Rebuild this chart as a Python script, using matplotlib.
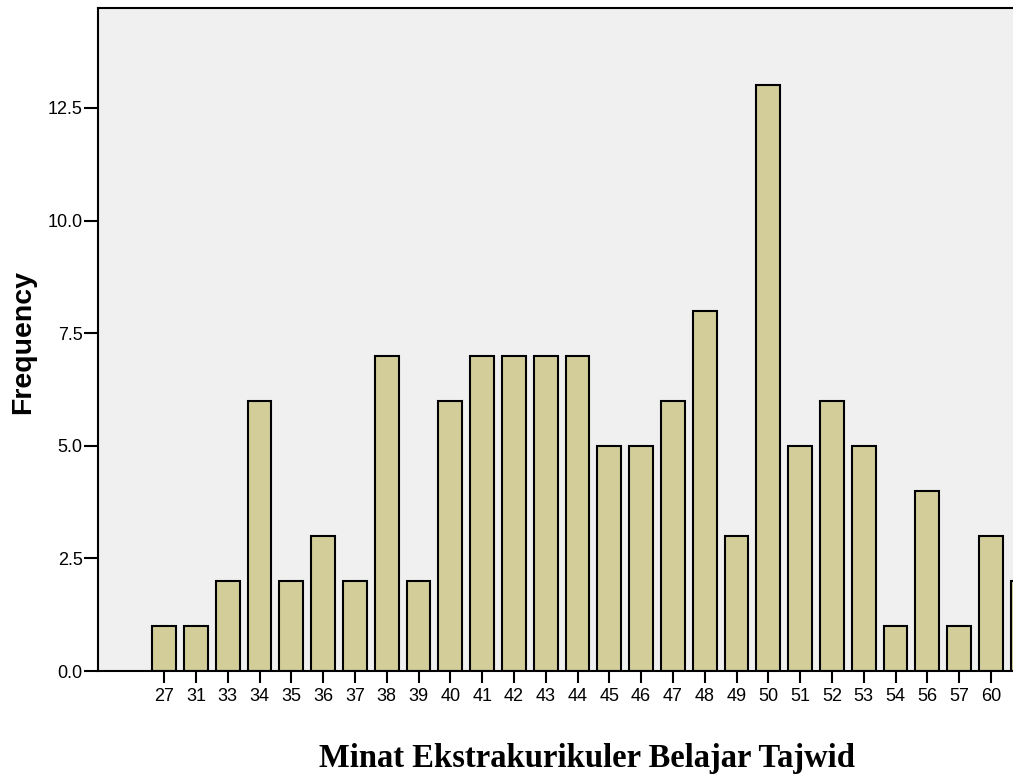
import matplotlib
matplotlib.use("Agg")
import matplotlib.pyplot as plt

# Nilai minat (kategori) dan frekuensinya
nilai = ["27", "31", "33", "34", "35", "36", "37", "38", "39", "40", "41", "42",
         "43", "44", "45", "46", "47", "48", "49", "50", "51", "52", "53", "54",
         "56", "57", "60", "61"]
frekuensi = [1, 1, 2, 6, 2, 3, 2, 7, 2, 6, 7, 7,
             7, 7, 5, 5, 6, 8, 3, 13, 5, 6, 5, 1,
             4, 1, 3, 2]
y_ticks = [0.0, 2.5, 5.0, 7.5, 10.0, 12.5]

W, H = 1013, 774
fig = plt.figure(figsize=(W / 100, H / 100), dpi=100)

# Area plot: kiri 98px, bawah 671px, atas 8px, melewati tepi kanan gambar
x_min, x_max = -2.08, 28.5
lebar_px = (x_max - x_min) * 31.8
ax = fig.add_axes([98 / W, (H - 671) / H, lebar_px / W, (671 - 8) / H])
ax.set_facecolor("#f0f0f0")

posisi = list(range(len(nilai)))
ax.bar(posisi, frekuensi, width=0.75, color="#d3ce99", edgecolor="black", linewidth=1.5)

ax.set_xlim(x_min, x_max)
ax.set_ylim(0, 14.72)
ax.set_xticks(posisi)
ax.set_xticklabels(nilai, fontfamily="Liberation Sans", fontsize=13)
ax.set_yticks(y_ticks)
ax.set_yticklabels([f"{v:.1f}" for v in y_ticks], fontfamily="Liberation Sans", fontsize=13)
ax.tick_params(axis="both", direction="out", width=1.5, color="black")
ax.tick_params(axis="x", length=8.5, pad=4)
ax.tick_params(axis="y", length=10, pad=1)

for s in ["left", "bottom", "top"]:
    ax.spines[s].set_linewidth(1.5)
ax.spines["right"].set_visible(False)

fig.text(23 / W, 1 - 342 / H, "Frequency", rotation=90, ha="center", va="center",
         fontfamily="Liberation Sans", fontweight="bold", fontsize=20.5)
fig.text(587 / W, 1 - 758 / H, "Minat Ekstrakurikuler Belajar Tajwid", ha="center", va="center",
         fontfamily="Liberation Serif", fontweight="bold", fontsize=23.5)

fig.savefig("out.png", dpi=100)
